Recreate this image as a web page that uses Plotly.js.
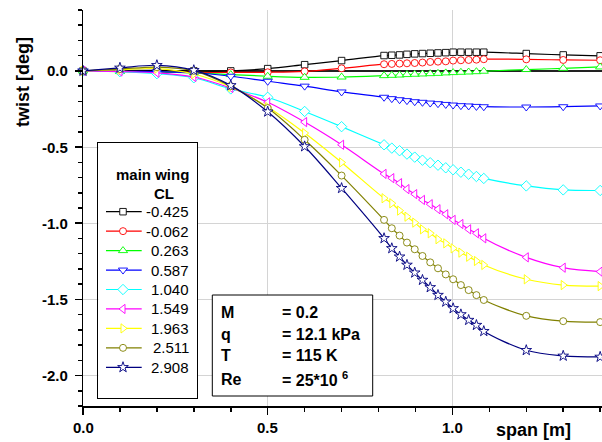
<!DOCTYPE html>
<html><head><meta charset="utf-8">
<script src="https://cdn.plot.ly/plotly-3.0.1.min.js"></script>
<style>html,body{margin:0;padding:0;background:#fff}#chart{width:602px;height:442px}</style>
</head><body><div id="chart"></div>
<script>
// ---- data ----
const spanX = [0, 0.1, 0.2, 0.3, 0.4, 0.5, 0.6, 0.7, 0.815, 0.836, 0.857, 0.877, 0.898, 0.919, 0.940, 0.961, 0.982, 1.002, 1.023, 1.044, 1.065, 1.085, 1.2, 1.3, 1.4];
const twistCLm0425 = [0, 0.003, 0.003, 0.0, 0.0, 0.015, 0.041, 0.068, 0.101, 0.103, 0.105, 0.109, 0.112, 0.114, 0.116, 0.118, 0.120, 0.123, 0.123, 0.123, 0.123, 0.123, 0.114, 0.105, 0.099];
const twistCLm0062 = [0, -0.003, -0.006, -0.010, -0.010, -0.009, -0.003, 0.017, 0.044, 0.046, 0.048, 0.050, 0.052, 0.055, 0.059, 0.061, 0.063, 0.068, 0.070, 0.072, 0.074, 0.077, 0.076, 0.072, 0.070];
const twistCL0263 = [0, -0.004, -0.006, -0.012, -0.024, -0.035, -0.042, -0.040, -0.031, -0.029, -0.027, -0.024, -0.022, -0.020, -0.018, -0.016, -0.013, -0.011, -0.009, -0.007, -0.005, -0.002, 0.009, 0.017, 0.026];
const twistCL0587 = [0, -0.002, -0.005, -0.012, -0.035, -0.068, -0.100, -0.138, -0.173, -0.182, -0.189, -0.195, -0.202, -0.206, -0.211, -0.215, -0.220, -0.224, -0.228, -0.230, -0.233, -0.235, -0.237, -0.235, -0.230];
const twistCL1040 = [0, -0.005, -0.018, -0.045, -0.118, -0.173, -0.266, -0.366, -0.485, -0.507, -0.524, -0.546, -0.566, -0.586, -0.603, -0.619, -0.636, -0.649, -0.665, -0.678, -0.693, -0.706, -0.755, -0.781, -0.785];
const twistCL1549 = [0, -0.004, -0.012, -0.040, -0.112, -0.206, -0.336, -0.485, -0.676, -0.704, -0.737, -0.776, -0.809, -0.847, -0.875, -0.908, -0.941, -0.978, -1.005, -1.040, -1.066, -1.099, -1.224, -1.292, -1.318];
const twistCL1963 = [0, 0.008, 0.015, -0.020, -0.105, -0.237, -0.408, -0.601, -0.836, -0.869, -0.917, -0.957, -0.996, -1.040, -1.066, -1.105, -1.132, -1.165, -1.193, -1.220, -1.248, -1.274, -1.368, -1.406, -1.413];
const twistCL2511 = [0, 0.012, 0.025, 0.000, -0.100, -0.244, -0.452, -0.687, -0.978, -1.033, -1.081, -1.127, -1.171, -1.215, -1.257, -1.296, -1.336, -1.368, -1.406, -1.439, -1.472, -1.504, -1.608, -1.643, -1.649];
const twistCL2908 = [0, 0.020, 0.037, 0.004, -0.095, -0.268, -0.496, -0.770, -1.099, -1.165, -1.220, -1.274, -1.325, -1.373, -1.421, -1.472, -1.516, -1.559, -1.599, -1.636, -1.669, -1.709, -1.834, -1.871, -1.878];
const clLabels = ['-0.425', '-0.062', '0.263', '0.587', '1.040', '1.549', '1.963', '2.511', '2.908'];
const xTickVals = [0, 0.5, 1.0];
const xTickText = ['0.0', '0.5', '1.0'];
const yTickVals = [0, -0.5, -1.0, -1.5, -2.0];
const yTickText = ['0.0', '-0.5', '-1.0', '-1.5', '-2.0'];
const paramNames = ['M', 'q', 'T', 'Re'];
const paramValues = ['= 0.2', '= 12.1 kPa', '= 115 K', '= 25*10\u00A0<sup>6</sup>'];
const legendTitle = ['main wing', 'CL'];

// ---- styles ----
const series = [twistCLm0425, twistCLm0062, twistCL0263, twistCL0587, twistCL1040, twistCL1549, twistCL1963, twistCL2511, twistCL2908];
const colors = ['#000000', '#ff0000', '#00ff00', '#0000ff', '#00ffff', '#ff00ff', '#ffff00', '#808000', '#000080'];
const symbols = ['square', 'circle', 'triangle-up', 'triangle-down', 'diamond', 'triangle-left', 'triangle-right', 'circle', 'star'];
const msizes = [6.5, 7, 8, 8, 8, 8, 8, 7, 8];
const FONT = 'Liberation Sans, Arial, sans-serif';
const bold = s => '<b>' + s + '</b>';

// plot area in pixels
const L = 83, T = 10, W = 519, H = 396;
const px = v => (v - L) / W;
const py = v => (T + H - v) / H;

// legend box (pixels)
const LB = {x0: 98.3, x1: 197, y0: 142.7, y1: 397.7, row0: 211.7, rowH: 19.45};

const traces = [];
series.forEach((ys, i) => {
  traces.push({
    x: spanX, y: ys, type: 'scatter', mode: 'lines+markers',
    line: {color: colors[i], width: 1.2, shape: 'spline', smoothing: 1},
    marker: {symbol: symbols[i], size: msizes[i], color: '#ffffff', line: {color: colors[i], width: 0.9}},
    cliponaxis: false, showlegend: false, hoverinfo: 'skip'
  });
});
// legend samples in the legend sub-axes (x2 in px inside box, y2 in rows)
series.forEach((ys, i) => {
  traces.push({
    x: [7.7, 24.7, 43.4], y: [i, i, i], xaxis: 'x2', yaxis: 'y2', type: 'scatter', mode: 'lines+markers',
    line: {color: colors[i], width: 1.2},
    marker: {symbol: symbols[i], size: msizes[i], color: '#ffffff', opacity: [0, 1, 0], line: {color: colors[i], width: 0.9}},
    cliponaxis: false, showlegend: false, hoverinfo: 'skip'
  });
});

const annotations = [];
// axis tick labels (bold), placed through the axes' own scales
xTickVals.forEach((v, i) => {
  annotations.push({xref: 'x', yref: 'paper', x: v, y: py(427.5), xanchor: 'center', yanchor: 'middle',
    text: bold(xTickText[i]), showarrow: false, font: {family: FONT, size: 15, color: '#000'}});
});
yTickVals.forEach((v, i) => {
  annotations.push({xref: 'paper', yref: 'y', x: px(70), y: v, xanchor: 'right', yanchor: 'middle',
    text: bold(yTickText[i]), showarrow: false, font: {family: FONT, size: 15, color: '#000'}});
});
clLabels.forEach((t, i) => {
  annotations.push({xref: 'x2', yref: 'y2', x: 93, y: i, xanchor: 'right', yanchor: 'middle', text: t,
    showarrow: false, font: {family: FONT, size: 15, color: '#000'}});
});
annotations.push({xref: 'x2', yref: 'y2', x: 92.4, y: (174 - LB.row0) / LB.rowH, xanchor: 'right', yanchor: 'middle',
  text: bold(legendTitle[0]), showarrow: false, font: {family: FONT, size: 15, color: '#000'}});
annotations.push({xref: 'x2', yref: 'y2', x: 65.2, y: (193.3 - LB.row0) / LB.rowH, xanchor: 'center', yanchor: 'middle',
  text: bold(legendTitle[1]), showarrow: false, font: {family: FONT, size: 15, color: '#000'}});

const rowY = [312.5, 334, 355.5, 379];
paramNames.forEach((t, i) => {
  annotations.push({xref: 'paper', yref: 'paper', x: px(219), y: py(rowY[i]), xanchor: 'left', yanchor: 'middle',
    text: bold(t), showarrow: false, font: {family: FONT, size: 16, color: '#000'}});
  annotations.push({xref: 'paper', yref: 'paper', x: px(280.3), y: py(rowY[i]), xanchor: 'left', yanchor: 'middle',
    text: bold(paramValues[i]), showarrow: false, font: {family: FONT, size: 16, color: '#000'}});
});
annotations.push({xref: 'paper', yref: 'paper', x: px(533), y: py(430), xanchor: 'center', yanchor: 'middle',
  text: bold('span [m]'), showarrow: false, font: {family: FONT, size: 18, color: '#000'}});
annotations.push({xref: 'paper', yref: 'paper', x: px(23), y: py(82), xanchor: 'center', yanchor: 'middle', textangle: -90,
  text: bold('twist [deg]'), showarrow: false, font: {family: FONT, size: 18, color: '#000'}});

const layout = {
  width: 602, height: 442,
  margin: {l: L, r: 602 - L - W, t: T, b: 442 - T - H, pad: 0},
  paper_bgcolor: '#ffffff', plot_bgcolor: '#ffffff',
  font: {family: FONT, color: '#000'},
  showlegend: false,
  xaxis: {
    domain: [0, 1], range: [0, 1.405], tickmode: 'array', tickvals: xTickVals, showticklabels: false,
    ticks: 'outside', ticklen: 7, tickwidth: 1.5, tickcolor: '#000',
    showline: true, linecolor: '#000', linewidth: 1.5,
    showgrid: true, gridcolor: '#d4d4d4', gridwidth: 1, zeroline: false,
    minor: {tick0: 0, dtick: 0.1, ticks: 'outside', ticklen: 4, tickwidth: 1.5, tickcolor: '#000', showgrid: false},
    fixedrange: true
  },
  yaxis: {
    domain: [0, 1], range: [-2.2, 0.4], tickmode: 'array', tickvals: yTickVals, showticklabels: false,
    ticks: 'outside', ticklen: 7, tickwidth: 1.5, tickcolor: '#000',
    showline: true, linecolor: '#000', linewidth: 1.5,
    showgrid: true, gridcolor: '#d4d4d4', gridwidth: 1,
    zeroline: true, zerolinecolor: '#222', zerolinewidth: 1.5,
    minor: {tick0: 0, dtick: 0.1, ticks: 'outside', ticklen: 4, tickwidth: 1.5, tickcolor: '#000', showgrid: false},
    fixedrange: true
  },
  xaxis2: {
    domain: [px(LB.x0), px(LB.x1)], range: [0, LB.x1 - LB.x0], anchor: 'y2',
    showline: true, mirror: true, linecolor: '#000', linewidth: 1,
    showgrid: false, zeroline: false, showticklabels: false, ticks: '', fixedrange: true
  },
  yaxis2: {
    domain: [py(LB.y1), py(LB.y0)],
    range: [(LB.y1 - LB.row0) / LB.rowH, (LB.y0 - LB.row0) / LB.rowH], anchor: 'x2',
    showline: true, mirror: true, linecolor: '#000', linewidth: 1,
    showgrid: false, zeroline: false, showticklabels: false, ticks: '', fixedrange: true
  },
  shapes: [{
    type: 'rect', xref: 'paper', yref: 'paper', layer: 'above',
    x0: px(212.3), x1: px(372.7), y0: py(396), y1: py(295),
    fillcolor: '#ffffff', line: {color: '#000', width: 1}
  }],
  annotations: annotations
};

Plotly.newPlot('chart', traces, layout, {displayModeBar: false, staticPlot: true});
</script>
</body></html>
